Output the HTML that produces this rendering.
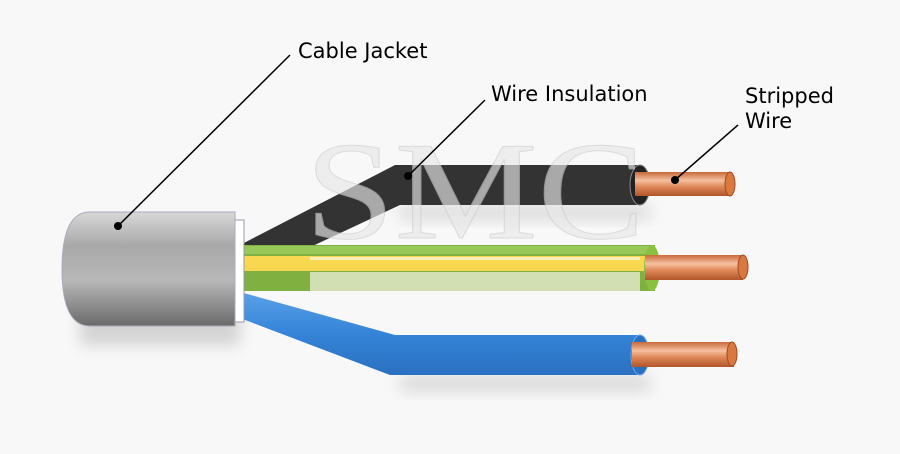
<!DOCTYPE html>
<html><head><style>body{margin:0;background:#f8f8f8;}svg{display:block}</style></head><body>
<svg width="900" height="454" viewBox="0 0 900 454" xmlns="http://www.w3.org/2000/svg">
<defs>
<linearGradient id="gj" x1="0" y1="0" x2="0" y2="1"><stop offset="0" stop-color="#d8d8d8"/><stop offset=".3" stop-color="#a8a8a8"/><stop offset=".6" stop-color="#b8b8b8"/><stop offset="1" stop-color="#6a6a6a"/></linearGradient>
<linearGradient id="gc" x1="0" y1="0" x2="0" y2="1"><stop offset="0" stop-color="#c8693a"/><stop offset=".35" stop-color="#f5c0a0"/><stop offset=".6" stop-color="#e08a5a"/><stop offset="1" stop-color="#b0552a"/></linearGradient>
<linearGradient id="gb" x1="0" y1="0" x2="0" y2="1"><stop offset="0" stop-color="#5aa0e8"/><stop offset=".5" stop-color="#3484d8"/><stop offset="1" stop-color="#2a70c0"/></linearGradient>
<filter id="bl" x="-20%" y="-50%" width="140%" height="200%"><feGaussianBlur stdDeviation="8"/></filter>
</defs>
<rect x="80" y="300" width="160" height="45" fill="#000" opacity=".15" filter="url(#bl)"/>
<path d="M400 205 L650 205 L650 220 L400 220 Z" fill="#000" opacity=".12" filter="url(#bl)"/>
<path d="M400 375 L650 375 L650 392 L400 392 Z" fill="#000" opacity=".12" filter="url(#bl)"/>
<path d="M240 245 L395 165 L640 165 L640 205 L400 205 L240 280 Z" fill="#333"/>
<ellipse cx="640" cy="185" rx="10" ry="20" fill="#222" stroke="#888" stroke-width="1"/>
<rect x="635" y="172" width="97" height="24" fill="url(#gc)"/>
<ellipse cx="730" cy="184" rx="5" ry="12" fill="#d9783f" stroke="#a04a20"/>
<path d="M240 292 L240 318 L390 375 L640 375 L640 335 L395 335 Z" fill="url(#gb)"/>
<ellipse cx="640" cy="355" rx="9" ry="20" fill="#2a70c0" stroke="#6aa8e8"/>
<rect x="632" y="342" width="102" height="25" fill="url(#gc)"/>
<ellipse cx="732" cy="354" rx="5" ry="12" fill="#d9783f" stroke="#a04a20"/>
<rect x="240" y="245" width="415" height="46" fill="#80b040"/>
<rect x="240" y="246" width="415" height="8" fill="#98c858"/>
<rect x="240" y="256" width="415" height="15" fill="#f8d850"/>
<rect x="310" y="272" width="330" height="19" fill="#dfe8c8" opacity=".85"/>
<rect x="310" y="257" width="330" height="3" fill="#fff" opacity=".6"/>
<ellipse cx="652" cy="268" rx="8" ry="23" fill="#8ac040"/>
<rect x="645" y="255" width="98" height="25" fill="url(#gc)"/>
<ellipse cx="743" cy="267" rx="5" ry="12" fill="#d9783f" stroke="#a04a20"/>
<rect x="233" y="220" width="11" height="102" fill="#fff" stroke="#99a" stroke-width="1"/>
<path d="M90 212 L235 212 L235 326 L90 326 Q62 326 62 269 Q62 212 90 212 Z" fill="url(#gj)" stroke="#aab" stroke-width="1"/>
<text x="305" y="238" font-family="Liberation Serif, serif" font-size="140" fill="#e8e8e8" opacity=".65" textLength="340" lengthAdjust="spacingAndGlyphs" stroke="#ccc" stroke-width="1">SMC</text>
<g stroke="#000" stroke-width="1.5"><line x1="290" y1="55" x2="118" y2="226"/><line x1="485" y1="100" x2="408" y2="176"/><line x1="738" y1="125" x2="675" y2="180"/></g>
<circle cx="118" cy="226" r="4"/><circle cx="408" cy="176" r="4"/><circle cx="675" cy="180" r="4"/>
<g font-family="DejaVu Sans, sans-serif" font-size="21" fill="#000">
<text x="298" y="58">Cable Jacket</text>
<text x="491" y="101">Wire Insulation</text>
<text x="745" y="103">Stripped</text>
<text x="745" y="128">Wire</text>
</g>
</svg>
</body></html>
